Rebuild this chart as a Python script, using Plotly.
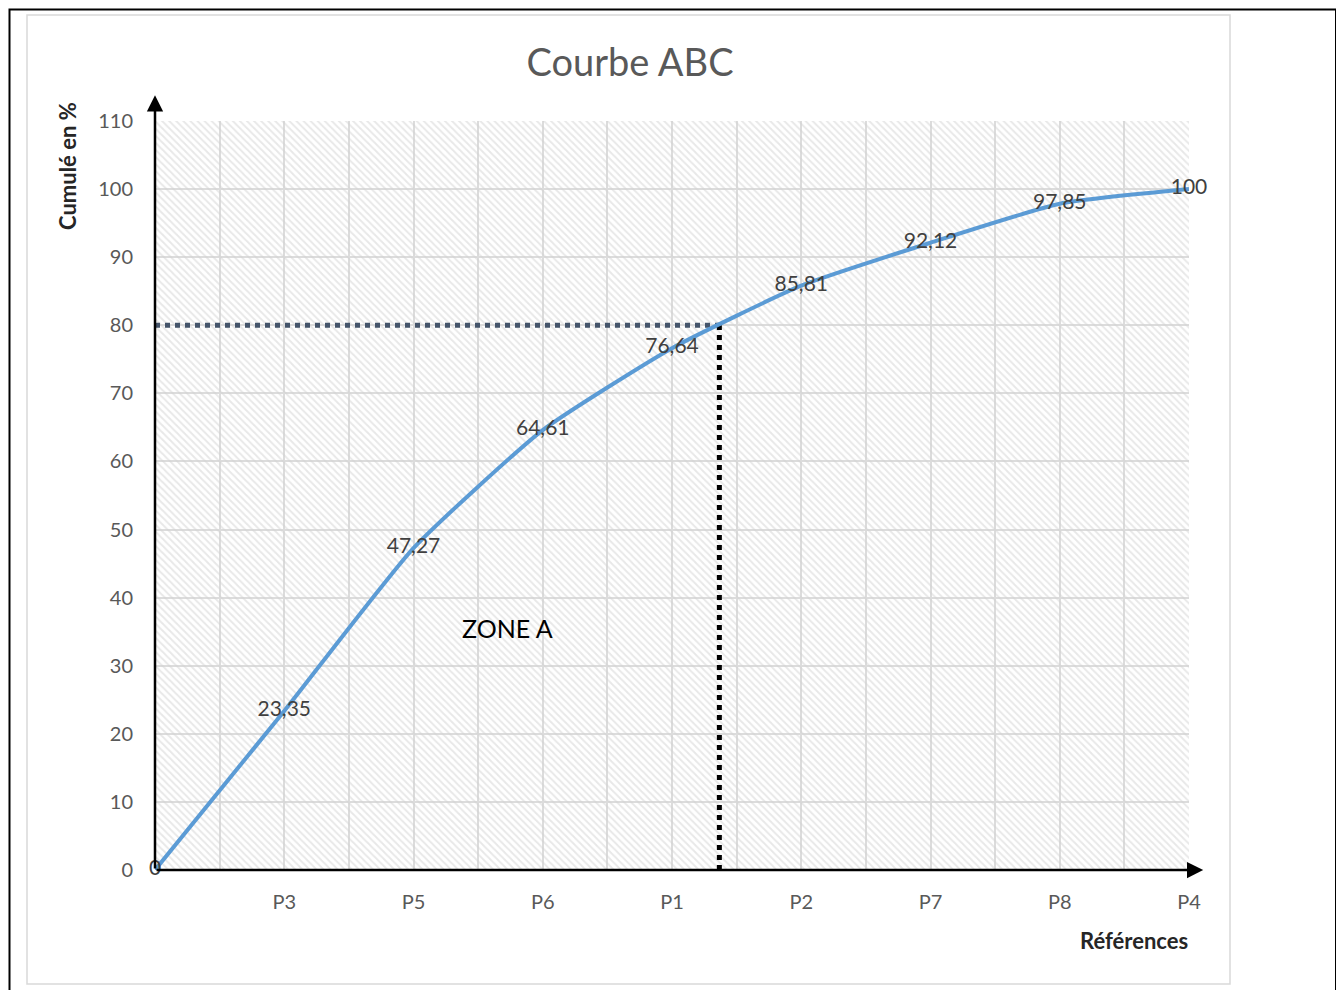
import plotly.graph_objects as go

# ---- data ----
categories = ["", "P3", "P5", "P6", "P1", "P2", "P7", "P8", "P4"]
cumul = [0, 23.35, 47.27, 64.61, 76.64, 85.81, 92.12, 97.85, 100]
y_ticks = [0, 10, 20, 30, 40, 50, 60, 70, 80, 90, 100, 110]
threshold = 80
zone_label = "ZONE A"

# page has an 8px body margin; work in reference pixel coordinates
OFF = 8
W, H = 1336, 982
PLOT_L, PLOT_R, PLOT_T, PLOT_B = 155, 1189, 121, 870  # reference px
L = PLOT_L - OFF
R = W - (PLOT_R - OFF)
T = PLOT_T - OFF
B = H - (PLOT_B - OFF)
PW, PH = PLOT_R - PLOT_L, PLOT_B - PLOT_T


def px_x(p):
    return (p - PLOT_L) / PW


def px_y(p):
    return (PLOT_B - p) / PH


xs = list(range(len(categories)))
labels = [f"{v:g}".replace(".", ",") for v in cumul]

# intersection of curve with threshold
xi = None
for i in range(1, len(cumul)):
    if cumul[i - 1] < threshold <= cumul[i]:
        xi = xs[i - 1] + (threshold - cumul[i - 1]) / (cumul[i] - cumul[i - 1])
        break

FONT = "Lato"
fig = go.Figure()

# hatched plot background
xmax = xs[-1]
ymax = y_ticks[-1]
fig.add_trace(go.Scatter(
    x=[0, xmax, xmax, 0, 0], y=[0, 0, ymax, ymax, 0],
    fill="toself", mode="lines", line=dict(width=0),
    fillcolor="rgba(0,0,0,0)",
    fillpattern=dict(shape="\\", fgcolor="#D2D2D2", bgcolor="rgba(0,0,0,0)",
                     size=5, solidity=0.4),
    hoverinfo="skip", showlegend=False))

# reference lines
fig.add_trace(go.Scatter(
    x=[0, xi], y=[threshold, threshold], mode="lines",
    line=dict(color="#44546A", width=5, dash="5px,5px"),
    hoverinfo="skip", showlegend=False, cliponaxis=False))
fig.add_trace(go.Scatter(
    x=[xi, xi], y=[0, threshold], mode="lines",
    line=dict(color="#000000", width=5, dash="5px,5px"),
    hoverinfo="skip", showlegend=False, cliponaxis=False))

# curve
fig.add_trace(go.Scatter(
    x=xs, y=cumul, mode="lines+text",
    line=dict(color="#5B9BD5", width=4, shape="spline", smoothing=0.5),
    text=labels, textposition="middle center",
    textfont=dict(family=FONT, size=21, color="#404040"),
    cliponaxis=False, showlegend=False))

fig.update_layout(
    width=W, height=H,
    margin=dict(l=L, r=R, t=T, b=B),
    paper_bgcolor="white", plot_bgcolor="white",
    title=dict(text="Courbe ABC", x=(630 - OFF) / W, xanchor="center",
               y=1 - (63 - OFF) / H, yanchor="middle",
               font=dict(family=FONT, size=38, color="#595959")),
    xaxis=dict(range=[0, xmax], tickmode="array", tickvals=xs[1:],
               ticktext=categories[1:], showgrid=False, zeroline=False,
               showline=False, ticks="", ticklabelstandoff=18,
               tickfont=dict(family=FONT, size=20, color="#595959"),
               minor=dict(dtick=0.5, tick0=0, showgrid=True, gridcolor="#DCDCDC", gridwidth=1.5)),
    yaxis=dict(range=[0, ymax], tickmode="array", tickvals=y_ticks,
               showgrid=True, gridcolor="#DCDCDC", gridwidth=1.5,
               zeroline=False, showline=False, ticks="", ticklabelstandoff=21,
               tickfont=dict(family=FONT, size=20, color="#595959")),
    font=dict(family=FONT),
)

# axis arrows
fig.add_annotation(x=8.11, y=0, ax=0, ay=0, xref="x", yref="y", axref="x", ayref="y",
                   text="", showarrow=True, arrowhead=2, arrowsize=1.3,
                   arrowwidth=2.5, arrowcolor="black")
fig.add_annotation(x=0, y=113.8, ax=0, ay=0, xref="x", yref="y", axref="x", ayref="y",
                   text="", showarrow=True, arrowhead=2, arrowsize=1.3,
                   arrowwidth=2.5, arrowcolor="black")

# zone label
fig.add_annotation(x=2.73, y=35.5, xref="x", yref="y", text=zone_label,
                   showarrow=False, font=dict(family=FONT, size=25, color="#000000"))

# axis titles
fig.add_annotation(x=px_x(67), y=px_y(166), xref="paper", yref="paper",
                   xanchor="center", yanchor="middle",
                   text="<b>Cumulé en %</b>", textangle=-90, showarrow=False,
                   font=dict(family=FONT, size=22, color="#262626"))
fig.add_annotation(x=px_x(1190), y=px_y(940), xref="paper", yref="paper",
                   xanchor="right", yanchor="middle", text="<b>Références</b>",
                   showarrow=False,
                   font=dict(family=FONT, size=22, color="#262626"))

# frames
fig.add_shape(type="rect", xref="paper", yref="paper",
              x0=px_x(27), x1=px_x(1230), y0=px_y(984), y1=px_y(15),
              line=dict(color="#D9D9D9", width=1.5), layer="below")
fig.add_shape(type="rect", xref="paper", yref="paper",
              x0=px_x(9.5), x1=px_x(1336), y0=px_y(996), y1=px_y(9.5),
              line=dict(color="black", width=2), layer="below")

fig.write_html("out.html")
